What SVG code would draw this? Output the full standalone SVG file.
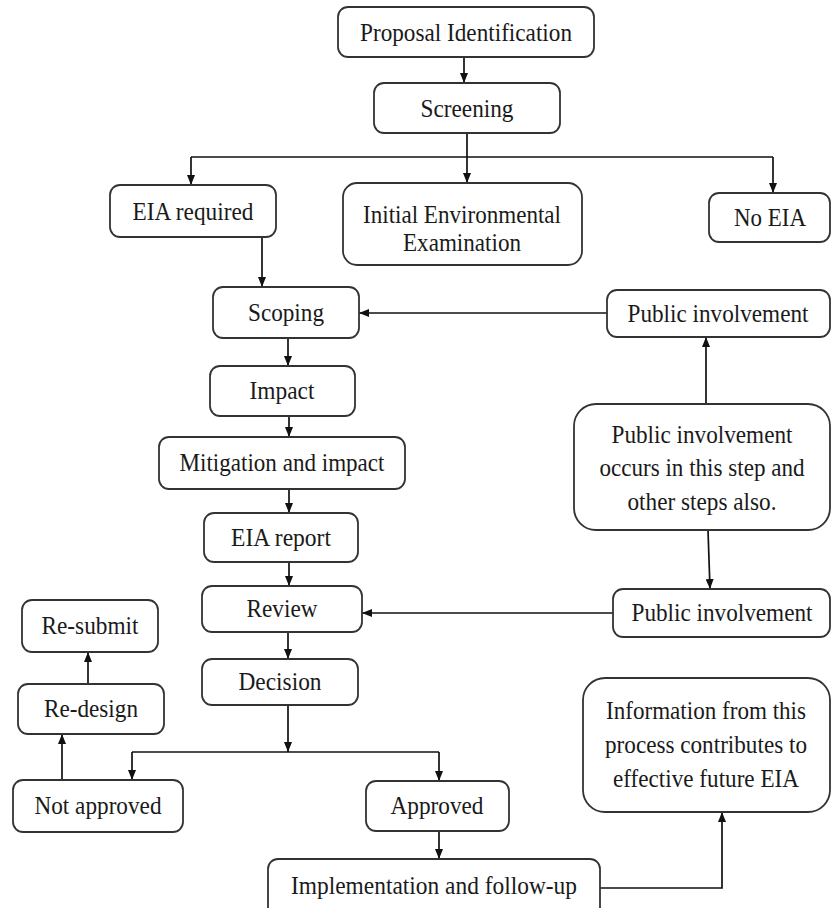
<svg xmlns="http://www.w3.org/2000/svg" width="831" height="908" viewBox="0 0 831 908">
<defs>
<marker id="ah" viewBox="0 0 10 8" refX="10" refY="4" markerWidth="10" markerHeight="8" markerUnits="userSpaceOnUse" orient="auto">
<path d="M0,0 L10,4 L0,8 z" fill="#111"/>
</marker>
<style>
.b{fill:#fff;stroke:#333;stroke-width:1.8}
.t{font-family:"Liberation Serif","Times New Roman",serif;font-size:25px;fill:#1a1a1a;text-anchor:middle}
.c{fill:none;stroke:#111;stroke-width:1.7}
.a{fill:none;stroke:#111;stroke-width:1.7;marker-end:url(#ah)}
</style>
</defs>
<rect width="831" height="908" fill="#fff"/>
<g id="connectors">
<line class="a" x1="464" y1="57" x2="464" y2="83"/>
<line class="a" x1="467" y1="133" x2="467" y2="183"/>
<line class="c" x1="191" y1="157" x2="773" y2="157"/>
<line class="a" x1="191" y1="157" x2="191" y2="185"/>
<line class="a" x1="773" y1="157" x2="773" y2="193"/>
<line class="a" x1="262" y1="237" x2="262" y2="287"/>
<line class="a" x1="607" y1="313" x2="359" y2="313"/>
<line class="a" x1="288" y1="338" x2="288" y2="366"/>
<line class="a" x1="289" y1="416" x2="289" y2="437"/>
<line class="a" x1="289" y1="489" x2="289" y2="513"/>
<line class="a" x1="289" y1="562" x2="289" y2="586"/>
<line class="a" x1="706" y1="404" x2="706" y2="337"/>
<line class="a" x1="708" y1="530" x2="710" y2="589"/>
<line class="a" x1="613" y1="613" x2="362" y2="613"/>
<line class="a" x1="288" y1="632" x2="288" y2="659"/>
<line class="a" x1="288" y1="705" x2="288" y2="752"/>
<line class="c" x1="132" y1="752" x2="439" y2="752"/>
<line class="a" x1="132" y1="752" x2="132" y2="780"/>
<line class="a" x1="439" y1="752" x2="439" y2="781"/>
<line class="a" x1="62" y1="780" x2="62" y2="734"/>
<line class="a" x1="88" y1="684" x2="88" y2="652"/>
<line class="a" x1="439" y1="831" x2="439" y2="859"/>
<polyline class="a" points="600,888 722,888 722,812"/>
</g>
<g id="proposal"><rect class="b" x="338" y="7" width="256" height="50" rx="10"/><text class="t" x="466" y="41" textLength="212" lengthAdjust="spacingAndGlyphs">Proposal Identification</text></g>
<g id="screening"><rect class="b" x="374" y="83" width="186" height="50" rx="10"/><text class="t" x="467" y="117" textLength="93" lengthAdjust="spacingAndGlyphs">Screening</text></g>
<g id="eia-required"><rect class="b" x="110" y="185" width="166" height="52" rx="10"/><text class="t" x="193" y="220" textLength="121" lengthAdjust="spacingAndGlyphs">EIA required</text></g>
<g id="iee"><rect class="b" x="343" y="183" width="239" height="82" rx="14"/><text class="t" x="462" y="223" textLength="198" lengthAdjust="spacingAndGlyphs">Initial Environmental</text><text class="t" x="462" y="251" textLength="118" lengthAdjust="spacingAndGlyphs">Examination</text></g>
<g id="no-eia"><rect class="b" x="709" y="193" width="121" height="49" rx="10"/><text class="t" x="770" y="226" textLength="72" lengthAdjust="spacingAndGlyphs">No EIA</text></g>
<g id="scoping"><rect class="b" x="213" y="287" width="146" height="51" rx="10"/><text class="t" x="286" y="321" textLength="76" lengthAdjust="spacingAndGlyphs">Scoping</text></g>
<g id="public-top"><rect class="b" x="607" y="290" width="223" height="47" rx="10"/><text class="t" x="718" y="322" textLength="181" lengthAdjust="spacingAndGlyphs">Public involvement</text></g>
<g id="impact"><rect class="b" x="210" y="366" width="145" height="50" rx="10"/><text class="t" x="282" y="399" textLength="65" lengthAdjust="spacingAndGlyphs">Impact</text></g>
<g id="mitigation"><rect class="b" x="159" y="437" width="246" height="52" rx="10"/><text class="t" x="282" y="471" textLength="205" lengthAdjust="spacingAndGlyphs">Mitigation and impact</text></g>
<g id="eia-report"><rect class="b" x="204" y="513" width="154" height="49" rx="10"/><text class="t" x="281" y="546" textLength="100" lengthAdjust="spacingAndGlyphs">EIA report</text></g>
<g id="public-note"><rect class="b" x="574" y="404" width="256" height="126" rx="22"/><text class="t" x="702" y="443" textLength="181" lengthAdjust="spacingAndGlyphs">Public involvement</text><text class="t" x="702" y="476" textLength="205" lengthAdjust="spacingAndGlyphs">occurs in this step and</text><text class="t" x="702" y="510" textLength="149" lengthAdjust="spacingAndGlyphs">other steps also.</text></g>
<g id="review"><rect class="b" x="202" y="586" width="160" height="46" rx="10"/><text class="t" x="282" y="617" textLength="71" lengthAdjust="spacingAndGlyphs">Review</text></g>
<g id="public-bottom"><rect class="b" x="613" y="589" width="217" height="48" rx="10"/><text class="t" x="722" y="621" textLength="181" lengthAdjust="spacingAndGlyphs">Public involvement</text></g>
<g id="resubmit"><rect class="b" x="22" y="600" width="136" height="52" rx="10"/><text class="t" x="90" y="634" textLength="97" lengthAdjust="spacingAndGlyphs">Re-submit</text></g>
<g id="decision"><rect class="b" x="202" y="659" width="156" height="46" rx="10"/><text class="t" x="280" y="690" textLength="83" lengthAdjust="spacingAndGlyphs">Decision</text></g>
<g id="redesign"><rect class="b" x="18" y="684" width="146" height="50" rx="10"/><text class="t" x="91" y="717" textLength="94" lengthAdjust="spacingAndGlyphs">Re-design</text></g>
<g id="info"><rect class="b" x="583" y="678" width="247" height="134" rx="22"/><text class="t" x="706" y="719" textLength="200" lengthAdjust="spacingAndGlyphs">Information from this</text><text class="t" x="706" y="753" textLength="202" lengthAdjust="spacingAndGlyphs">process contributes to</text><text class="t" x="706" y="787" textLength="186" lengthAdjust="spacingAndGlyphs">effective future EIA</text></g>
<g id="not-approved"><rect class="b" x="13" y="780" width="170" height="52" rx="10"/><text class="t" x="98" y="814" textLength="127" lengthAdjust="spacingAndGlyphs">Not approved</text></g>
<g id="approved"><rect class="b" x="366" y="781" width="143" height="50" rx="10"/><text class="t" x="437" y="814" textLength="93" lengthAdjust="spacingAndGlyphs">Approved</text></g>
<g id="implementation"><rect class="b" x="268" y="859" width="332" height="60" rx="10"/><text class="t" x="434" y="894" textLength="286" lengthAdjust="spacingAndGlyphs">Implementation and follow-up</text></g>
</svg>
